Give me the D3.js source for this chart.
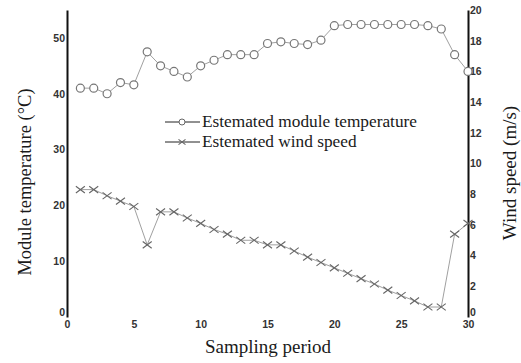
<!DOCTYPE html>
<html><head><meta charset="utf-8">
<script src="https://cdn.jsdelivr.net/npm/d3@7"></script>
<style>body{margin:0;background:#fff}svg{display:block}</style>
</head><body>
<svg id="c" width="521" height="363"></svg>
<script>
const periods = d3.range(1, 31);
const moduleTemp = [41, 41, 40, 42, 41.6, 47.5, 45, 44, 43, 45, 46, 47, 47, 47, 49, 49.3, 49, 48.8, 49.6, 52.2, 52.4, 52.4, 52.4, 52.4, 52.4, 52.4, 52.2, 51.6, 47, 44];
const windSpeed = [8.3, 8.3, 7.9, 7.55, 7.2, 4.7, 6.85, 6.85, 6.45, 6.1, 5.7, 5.4, 5.0, 5.0, 4.7, 4.7, 4.3, 3.9, 3.55, 3.2, 2.85, 2.5, 2.15, 1.75, 1.4, 1.05, 0.65, 0.65, 5.4, 6.1];
const xTicks = [0, 5, 10, 15, 20, 25, 30];
const leftTicks = [0, 10, 20, 30, 40, 50];
const rightTicks = [0, 2, 4, 6, 8, 10, 12, 14, 16, 18, 20];
const legendLabels = ["Estemated module temperature", "Estemated wind speed"];

const svg = d3.select("#c");
const x = d3.scaleLinear().domain([0, 30]).range([67, 468]);
const yL = d3.scaleLinear().domain([0, 55]).range([317, 10]);
const yR = d3.scaleLinear().domain([0, 20]).range([317, 10]);
const tickFont = "'Liberation Sans Narrow','Arial Narrow','Liberation Sans',sans-serif";
const serif = "'Liberation Serif','Times New Roman',serif";

const axL = d3.axisLeft(yL).tickValues(leftTicks).tickSize(0).tickPadding(2);
const gL = svg.append("g").attr("transform", `translate(${x(0)},0)`).call(axL);
const axR = d3.axisRight(yR).tickValues(rightTicks).tickSize(0).tickPadding(2);
const gR = svg.append("g").attr("transform", `translate(${x(30)},0)`).call(axR);
const axB = d3.axisBottom(x).tickValues(xTicks).tickSize(0).tickPadding(4);
const gB = svg.append("g").attr("transform", `translate(0,${yL(0)})`).call(axB);
gB.select(".domain").remove();
[gL, gR].forEach(g => g.select(".domain").attr("stroke", "#111").attr("stroke-width", 2));
[gL, gR, gB].forEach(g => g.selectAll("text").attr("font-family", tickFont).attr("font-weight", "bold").attr("font-size", 10.5).attr("fill", "#333"));
// nudge the zero labels on the vertical axes up, as in the reference
gL.selectAll(".tick").filter(d => d === 0).select("text").attr("dy", "-0.1em");
gR.selectAll(".tick").filter(d => d === 0).select("text").attr("dy", "-0.1em");

const lineT = d3.line().x((d, i) => x(periods[i])).y(d => yL(d));
const lineW = d3.line().x((d, i) => x(periods[i])).y(d => yR(d));
svg.append("path").datum(moduleTemp).attr("d", lineT).attr("fill", "none").attr("stroke", "#a0a0a0").attr("stroke-width", 1);
svg.append("path").datum(windSpeed).attr("d", lineW).attr("fill", "none").attr("stroke", "#a0a0a0").attr("stroke-width", 1);

svg.append("g").selectAll("circle").data(moduleTemp).join("circle")
  .attr("cx", (d, i) => x(periods[i])).attr("cy", d => yL(d)).attr("r", 4)
  .attr("fill", "#fff").attr("stroke", "#777").attr("stroke-width", 1.2);

const cross = (g, cx, cy, s) => {
  g.append("path").attr("d", `M${cx - s},${cy - s * 0.75}L${cx + s},${cy + s * 0.75}M${cx - s},${cy + s * 0.75}L${cx + s},${cy - s * 0.75}`)
    .attr("stroke", "#666").attr("stroke-width", 1.1).attr("fill", "none");
};
const gW = svg.append("g");
windSpeed.forEach((d, i) => cross(gW, x(periods[i]), yR(d), 4.5));

const lg = svg.append("g");
legendLabels.forEach((t, i) => {
  const yy = 122 + i * 20;
  lg.append("line").attr("x1", 165).attr("x2", 200).attr("y1", yy).attr("y2", yy).attr("stroke", "#222").attr("stroke-width", 1);
  if (i === 0) {
    lg.append("circle").attr("cx", 182).attr("cy", yy).attr("r", 3).attr("fill", "#fff").attr("stroke", "#666");
  } else {
    cross(lg, 182, yy, 3.5);
  }
  lg.append("text").attr("x", 202).attr("y", yy + 5).text(t)
    .attr("font-family", serif).attr("font-size", 17.3).attr("fill", "#1a1a1a");
});

svg.append("text").attr("transform", "translate(31,182) rotate(-90)").attr("text-anchor", "middle")
  .attr("font-family", serif).attr("font-size", 18.5).attr("fill", "#1a1a1a").text("Module temperature (°C)");
svg.append("text").attr("transform", "translate(516,173) rotate(-90)").attr("text-anchor", "middle")
  .attr("font-family", serif).attr("font-size", 19).attr("fill", "#1a1a1a").text("Wind speed (m/s)");
svg.append("text").attr("x", 268).attr("y", 353).attr("text-anchor", "middle")
  .attr("font-family", serif).attr("font-size", 19).attr("fill", "#1a1a1a").text("Sampling period");
</script>
</body></html>
